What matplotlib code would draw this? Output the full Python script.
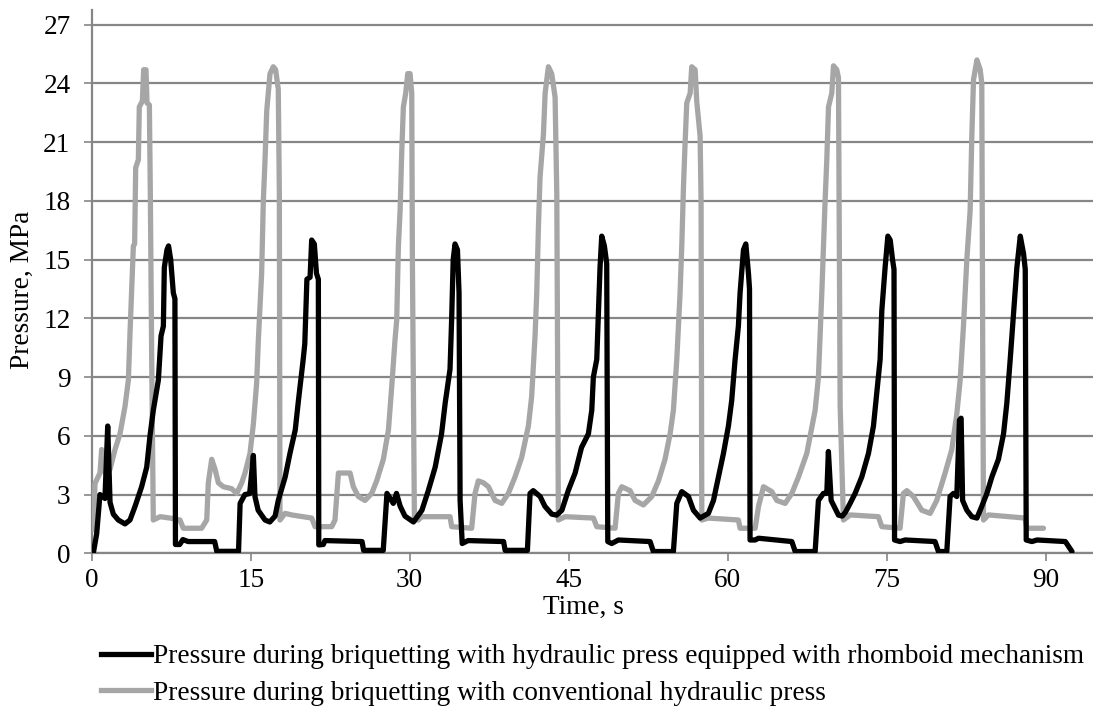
import matplotlib
matplotlib.use("Agg")
import matplotlib.pyplot as plt
from matplotlib.lines import Line2D

plt.rcParams['font.family'] = ['Liberation Serif', 'DejaVu Serif']

# Time (s) and pressure (MPa) for the hydraulic press with rhomboid mechanism
black_t = [0.15, 0.47, 0.78, 1.25, 1.51, 1.73, 2.04, 2.51, 3.14, 3.61, 4.09, 4.71, 5.19, 5.50, 5.81,
           6.29, 6.54, 6.76, 6.85, 7.10, 7.25, 7.45, 7.70, 7.85, 7.90, 8.30, 8.60, 9.10, 11.60, 11.80,
           13.85, 14.00, 14.45, 14.90, 15.25, 15.40, 15.70, 16.35, 16.80, 17.30, 17.60, 18.25, 18.70,
           19.20, 19.50, 19.95, 20.10, 20.30, 20.60, 20.75, 21.00, 21.20, 21.38, 21.42, 21.85, 22.00,
           25.50, 25.65, 27.50, 27.85, 28.15, 28.45, 28.75, 29.10, 29.55, 30.35, 31.15, 31.75, 32.40,
           33.00, 33.35, 33.80, 33.95, 34.10, 34.27, 34.50, 34.65, 34.75, 34.95, 35.50, 38.85, 39.00,
           41.10, 41.35, 41.65, 42.30, 42.75, 43.40, 43.85, 44.35, 44.95, 45.60, 46.20, 46.85, 47.17,
           47.32, 47.64, 47.80, 47.95, 48.11, 48.36, 48.58, 48.68, 49.05, 49.68, 52.67, 52.98, 54.87,
           55.19, 55.66, 56.29, 56.76, 57.39, 58.17, 58.65, 59.12, 59.59, 60.06, 60.37, 60.69, 61.00,
           61.16, 61.48, 61.70, 61.95, 62.05, 62.10, 62.58, 62.90, 66.04, 66.36, 68.24, 68.55, 69.02,
           69.34, 69.49, 69.75, 70.44, 70.80, 71.10, 71.54, 72.01, 72.64, 73.27, 73.74, 74.05, 74.37,
           74.53, 74.84, 75.10, 75.32, 75.54, 75.68, 75.73, 76.25, 76.73, 79.55, 79.87, 80.66, 80.97,
           81.29, 81.60, 81.85, 82.01, 82.15, 82.55, 83.02, 83.50, 83.96, 84.44, 84.91, 85.53, 86.01,
           86.32, 86.64, 86.95, 87.27, 87.59, 87.90, 88.06, 88.15, 88.69, 89.17, 91.84, 92.47]
black_p = [0.0, 1.0, 3.0, 2.8, 6.5, 2.6, 2.0, 1.7, 1.5, 1.7, 2.4, 3.4, 4.4, 6.0, 7.3,
           8.85, 11.1, 11.6, 14.6, 15.5, 15.7, 15.0, 13.3, 13.0, 0.45, 0.45, 0.7, 0.6, 0.6, 0.1,
           0.1, 2.55, 3.0, 3.05, 5.0, 2.9, 2.2, 1.7, 1.6, 1.9, 2.7, 3.9, 5.1,
           6.3, 7.8, 9.9, 10.7, 14.0, 14.1, 16.0, 15.8, 14.3, 14.0, 0.43, 0.45, 0.65,
           0.6, 0.15, 0.15, 3.06, 2.8, 2.55, 3.06, 2.4, 1.9, 1.6, 2.2, 3.2, 4.4,
           6.1, 7.7, 9.4, 11.9, 15.0, 15.8, 15.5, 13.3, 2.7, 0.5, 0.65, 0.6, 0.15,
           0.15, 3.06, 3.2, 2.9, 2.4, 2.0, 1.95, 2.2, 3.2, 4.1, 5.4, 6.1, 7.3,
           9.0, 9.9, 12.25, 14.6, 16.2, 15.7, 14.8, 0.6, 0.5, 0.68, 0.6, 0.09, 0.09,
           2.55, 3.15, 2.9, 2.2, 1.8, 2.04, 2.7, 3.9, 5.1, 6.5, 7.8, 9.9, 11.6,
           13.3, 15.5, 15.8, 14.3, 13.5, 0.68, 0.68, 0.77, 0.6, 0.09, 0.09, 2.7, 3.06,
           3.06, 5.2, 2.7, 1.95, 1.9, 2.1, 2.55, 3.06, 3.9, 5.1, 6.5, 8.2, 9.9,
           12.4, 14.6, 16.2, 16.0, 15.0, 14.5, 0.68, 0.6, 0.68, 0.6, 0.09, 0.09, 2.9,
           3.06, 2.9, 6.8, 6.9, 2.7, 2.2, 1.87, 1.8, 2.4, 3.06, 3.9, 4.8, 6.1,
           7.66, 9.9, 12.25, 14.6, 16.2, 15.3, 14.5, 0.68, 0.6, 0.68, 0.6, 0.09]

# Time (s) and pressure (MPa) for the conventional hydraulic press
grey_t = [0.15, 0.31, 0.78, 0.94, 1.20, 1.41, 1.73, 2.20, 2.67, 3.14, 3.46, 3.61, 3.93, 4.05, 4.15,
          4.40, 4.49, 4.78, 4.90, 5.12, 5.22, 5.44, 5.53, 5.66, 5.81, 6.45, 7.39, 8.33, 8.64, 10.37,
          10.85, 11.00, 11.32, 11.63, 11.95, 12.42, 13.20, 13.68, 14.15, 14.46, 14.93, 15.25, 15.56,
          15.72, 16.03, 16.19, 16.35, 16.51, 16.82, 17.13, 17.35, 17.60, 17.70, 17.76, 18.24, 18.86,
          20.75, 21.07, 22.64, 22.95, 23.27, 24.37, 24.68, 25.15, 25.78, 26.41, 26.88, 27.51, 27.99,
          28.30, 28.61, 28.77, 28.93, 29.09, 29.24, 29.40, 29.62, 29.81, 30.03, 30.19, 30.25, 30.44,
          30.81, 31.13, 33.80, 33.96, 35.84, 36.16, 36.47, 36.95, 37.42, 38.05, 38.68, 39.30, 39.93,
          40.56, 41.19, 41.50, 41.82, 41.98, 42.14, 42.29, 42.61, 42.77, 43.08, 43.39, 43.71, 43.87,
          44.02, 44.65, 47.33, 47.64, 49.37, 49.68, 50.00, 50.78, 51.26, 52.04, 52.83, 53.46, 54.08,
          54.56, 54.87, 55.19, 55.50, 55.66, 55.82, 55.97, 56.13, 56.45, 56.60, 56.92, 57.07, 57.39,
          57.48, 57.55, 58.17, 61.00, 61.16, 62.58, 62.90, 63.37, 64.15, 64.62, 65.41, 66.04, 66.67,
          67.45, 68.24, 68.55, 68.87, 69.18, 69.34, 69.50, 69.81, 69.97, 70.28, 70.44, 70.60, 70.91,
          71.54, 74.21, 74.53, 76.25, 76.57, 76.89, 77.51, 78.30, 79.09, 79.71, 80.50, 81.13, 81.60,
          81.92, 82.23, 82.55, 82.86, 83.02, 83.18, 83.50, 83.81, 83.96, 84.05, 84.12, 84.59, 88.05,
          88.21, 89.78]
grey_p = [1.2, 3.57, 4.1, 5.3, 4.2, 4.0, 4.3, 5.3, 6.1, 7.5, 8.85, 11.2, 15.7, 15.8, 19.7,
          20.1, 22.8, 23.1, 24.7, 24.7, 23.0, 22.9, 18.4, 9.9, 1.7, 1.87, 1.8, 1.7, 1.28, 1.28,
          1.7, 3.6, 4.8, 4.3, 3.6, 3.4, 3.3, 3.06, 3.6, 4.1, 5.1, 6.6, 8.7,
          10.9, 14.3, 18.0, 20.1, 22.6, 24.5, 24.85, 24.7, 23.7, 18.4, 1.7, 2.04, 1.96,
          1.8, 1.36, 1.36, 1.7, 4.1, 4.1, 3.4, 2.9, 2.7, 3.06, 3.7, 4.8, 6.3,
          8.5, 10.9, 11.9, 15.7, 17.5, 20.4, 22.8, 23.5, 24.5, 24.5, 23.5, 15.0, 1.7,
          1.7, 1.87, 1.87, 1.36, 1.28, 3.06, 3.7, 3.6, 3.4, 2.7, 2.55, 3.06, 3.9,
          4.9, 6.5, 8.0, 11.1, 13.3, 16.7, 19.2, 21.4, 23.5, 24.85, 24.5, 23.3, 18.4,
          1.7, 1.87, 1.8, 1.36, 1.28, 3.06, 3.4, 3.2, 2.7, 2.47, 2.9, 3.7, 4.8,
          6.1, 7.3, 9.9, 13.3, 15.7, 18.7, 20.9, 23.0, 23.5, 24.85, 24.7, 23.1, 21.3,
          18.0, 1.7, 1.8, 1.7, 1.28, 1.28, 2.4, 3.4, 3.15, 2.7, 2.55, 3.06, 3.9,
          5.1, 7.3, 9.0, 13.3, 18.0, 20.1, 22.8, 23.5, 24.9, 24.7, 24.3, 7.5, 1.7,
          1.96, 1.87, 1.36, 1.28, 3.06, 3.2, 2.9, 2.2, 2.04, 2.7, 4.1, 5.3, 7.1,
          8.85, 11.6, 15.0, 17.5, 21.3, 24.2, 25.2, 24.7, 24.0, 10.0, 1.7, 1.96, 1.8,
          1.28, 1.28]

x_ticks = [0, 15, 30, 45, 60, 75, 90]
y_ticks = [0, 3, 6, 9, 12, 15, 18, 21, 24, 27]
label_black = "Pressure during briquetting with hydraulic press equipped with rhomboid mechanism"
label_grey = "Pressure during briquetting with conventional hydraulic press"

W, H = 1093, 715
fig = plt.figure(figsize=(W / 100, H / 100), dpi=100)
left, bottom, top = 91.7, 553.3, 10.0
ax = fig.add_axes([left / W, 1 - bottom / H, 1 - left / W, (bottom - top) / H])

grid_c = '#868686'
fs = 19.6
ax.plot(grey_t, grey_p, color='#A6A6A6', lw=3.8, solid_joinstyle='round', solid_capstyle='round', zorder=3)
ax.plot(black_t, black_p, color='#000000', lw=3.8, solid_joinstyle='round', solid_capstyle='round', zorder=4)

ax.set_xlim(0, 94.45)
ax.set_ylim(0, 27.75)
ax.set_xticks(x_ticks)
ax.set_yticks(y_ticks)
ax.yaxis.grid(True, color=grid_c, lw=1.6)
ax.set_axisbelow(True)
for s in ['top', 'right']:
    ax.spines[s].set_visible(False)
for s in ['left', 'bottom']:
    ax.spines[s].set_color(grid_c)
    ax.spines[s].set_linewidth(1.6)
ax.tick_params(axis='both', direction='out', length=5.8, width=1.2, color=grid_c,
               labelsize=fs, labelcolor='black')
ax.tick_params(axis='y', pad=9.5)
ax.tick_params(axis='x', pad=5)

fig.text(583 / W, 1 - 607 / H, "Time, s", ha='center', va='center', fontsize=fs)
fig.text(22 / W, 1 - 290 / H, "Pressure, MPa", ha='center', va='center', rotation=90, fontsize=fs)

handles = [Line2D([], [], color='black', lw=3.8), Line2D([], [], color='#A6A6A6', lw=3.8)]
fig.legend(handles, [label_black, label_grey], loc='upper left',
           bbox_to_anchor=(101 / W, 1 - 644 / H), frameon=False, fontsize=fs,
           handlelength=1.85, handletextpad=0.05, borderpad=0, borderaxespad=0,
           labelspacing=0.42)

fig.savefig("out.png", dpi=100)
